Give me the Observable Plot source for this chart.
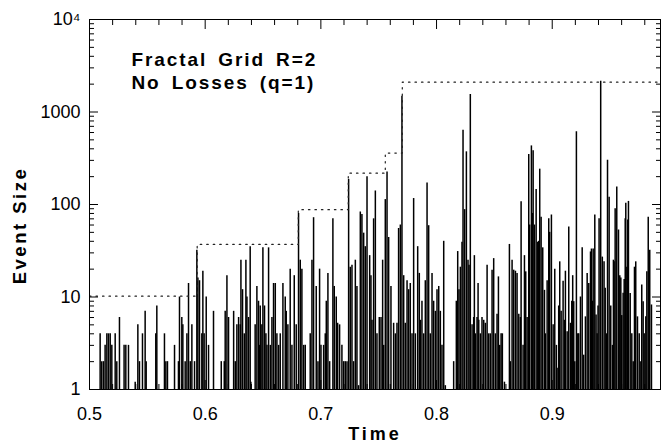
<!DOCTYPE html>
<html><head><meta charset="utf-8">
<script src="https://cdn.jsdelivr.net/npm/d3@7"></script>
<script src="https://cdn.jsdelivr.net/npm/@observablehq/plot@0.6"></script>
<style>
html,body{margin:0;padding:0;background:#fff;}
#chart{width:662px;height:444px;}
</style></head><body><div id="chart"></div>
<script>
// Event times
const times = [
0.5092,0.5106,0.5121,0.5135,0.5150,0.5164,0.5179,0.5193,0.5222,0.5236,0.5259,0.5299,0.5314,0.5337,0.5395,0.5418,0.5432,0.5458,0.5481,0.5490,
0.5573,0.5582,0.5648,0.5660,0.5674,0.5735,0.5769,0.5778,0.5798,0.5807,0.5827,0.5842,0.5856,0.5871,0.5885,0.5908,0.5928,0.5937,0.5951,0.5971,
0.5980,0.5991,0.6009,0.6029,0.6072,0.6139,0.6165,0.6173,0.6188,0.6202,0.6246,0.6260,0.6274,0.6289,0.6303,0.6309,0.6323,0.6338,0.6352,0.6361,
0.6375,0.6389,0.6395,0.6432,0.6447,0.6461,0.6470,0.6476,0.6490,0.6499,0.6513,0.6525,0.6534,0.6548,0.6563,0.6577,0.6591,0.6606,0.6620,0.6635,
0.6649,0.6672,0.6692,0.6701,0.6715,0.6735,0.6750,0.6770,0.6787,0.6807,0.6822,0.6836,0.6851,0.6865,0.6908,0.6923,0.6937,0.6960,0.6975,0.6989,
0.7001,0.7024,0.7038,0.7047,0.7061,0.7076,
0.7104,0.7116,0.7133,0.7145,0.7162,0.7182,0.7197,0.7211,0.7226,0.7240,0.7254,0.7269,0.7283,0.7298,0.7312,0.7326,0.7341,0.7355,0.7370,0.7384,
0.7399,0.7422,0.7433,0.7442,0.7456,0.7471,0.7485,0.7505,0.7520,0.7534,0.7543,0.7557,0.7572,0.7586,0.7606,0.7629,0.7644,0.7658,0.7672,0.7687,
0.7701,0.7716,0.7730,0.7745,0.7759,0.7773,0.7788,0.7802,0.7817,0.7837,0.7851,0.7860,0.7874,0.7889,0.7903,0.7918,0.7932,0.7946,0.7961,0.7975,
0.7990,0.8004,0.8019,0.8033,0.8047,0.8062,0.8076,0.8148,0.8171,0.8183,0.8194,0.8206,0.8220,0.8229,0.8243,0.8258,0.8272,0.8281,0.8292,0.8307,
0.8321,0.8327,0.8336,0.8350,0.8359,0.8365,0.8379,0.8393,0.8408,0.8422,0.8437,0.8451,0.8465,0.8480,0.8494,0.8509,0.8523,0.8535,0.8546,0.8558,
0.8569,0.8587,0.8630,0.8638,0.8653,0.8667,0.8682,0.8696,0.8711,
0.8725,0.8731,0.8748,0.8760,0.8771,0.8783,0.8797,0.8805,0.8820,0.8829,0.8835,0.8846,0.8861,0.8875,0.8883,0.8892,0.8904,0.8918,0.8933,0.8941,
0.8956,0.8970,0.8978,0.8993,0.9008,0.9022,0.9036,0.9042,0.9056,0.9065,0.9077,0.9094,0.9106,0.9114,0.9129,0.9143,0.9158,0.9169,0.9177,0.9186,
0.9195,0.9209,0.9221,0.9229,0.9244,0.9259,0.9272,0.9287,0.9302,0.9316,0.9331,0.9339,0.9348,
0.9354,0.9368,0.9379,0.9388,0.9396,0.9405,0.9419,0.9433,0.9448,0.9458,0.9469,0.9478,0.9492,0.9506,0.9521,0.9529,0.9535,0.9544,0.9558,0.9573,
0.9584,0.9593,0.9601,0.9613,0.9622,0.9631,0.9636,0.9645,0.9653,0.9659,0.9674,0.9688,0.9700,0.9711,0.9722,0.9737,0.9752,0.9766,0.9774,0.9786,
0.9795,0.9809,0.9818,0.9830,0.9843,0.9858
];
// Event sizes, same order as times
const sizes = [
4,2,2,3,4,4,4,3,4,2,6,3,3,3,1.2,5,2,4,7,2,
4,8,4,2,2,3,2,10,6,5,2,4,14,2,5,2,32,16,15,4,
19,4,10,3,7,2,2,7,17,6,7,2,5,6,5,25,12,4,25,10,
6,35,1.2,5,13,9,3,8,5,34,8,4,3,34,3,6,14,14,4,3,
4,14,10,7,5,20,3,17,5,80,25,20,3,3,4,25,72,13,2,20,
3,3,4,9,18,2,
70,13,10,5.2,5,3,2,2,2,187,21,22,2,25,13,1.1,83,78,49,35,
199,28,17,5.6,70,140,4,6,6,25,3,113,225,44,13,5.2,4,5.2,55,60,
1480,17,5.2,15,12,14,4,116,4,35,18,5.6,9,4,15,171,59,4,18,9,
7,12,13,7,3,40,1.1,2,9,31,12,21,39,635,88,371,25,22,1550,5,
6,28,4,6,14,5.6,4,6,5.6,5.2,22,4,4,19.5,26,4,6.5,16.5,3,4,
4,1.2,37,2,25,19.5,19,18,6.5,
6,107,3,28,18.7,6,347,60,430,80,380,60,145,39,40,241,73,34,11.8,4,
15,70,50,77,5,20,3,1.7,8,24,7,14.8,5.6,19,4.2,57,5.2,9,17,8.9,
2,610,4,4,10,34,2.35,6.1,18,14,30.7,33,9,
33,77,6.4,4,8,70,2150,27,24,12.4,4,301,120,8,3,25,24,90,155,53,
17,16,6.3,11,15.5,70,103,21,68,108,10.9,4,2,21,24,6.1,4,2,13.5,8.9,
4,6.1,18.7,73,32,8.2
];
// Dotted staircase (upper envelope)
const stepTimes = [0.5, 0.5931, 0.6805, 0.7237, 0.7557, 0.7704, 0.9936];
const stepLevels = [10.2, 37, 88, 218, 360, 2100, 2100];
// Axis ticks
const xTicks = [0.5, 0.6, 0.7, 0.8, 0.9];
const xMinorTicks = [0.52,0.54,0.56,0.58,0.62,0.64,0.66,0.68,0.72,0.74,0.76,0.78,0.82,0.84,0.86,0.88,0.92,0.94,0.96,0.98];
const yTicks = [1, 10, 100, 1000, 10000];
const yTickLabels = ["1", "10", "100", "1000", "10\u2074"];
const yMinorTicks = [2,3,4,5,6,7,8,9,20,30,40,50,60,70,80,90,200,300,400,500,600,700,800,900,2000,3000,4000,5000,6000,7000,8000,9000];
const noteLines = ["Fractal Grid R=2", "No Losses (q=1)"];
const xLabel = "Time";
const yLabel = "Event Size";

const events = times.map((t, i) => ({t, v: sizes[i]}));
const steps = stepTimes.map((t, i) => ({t, v: stepLevels[i]}));
const yLabelOf = new Map(yTicks.map((d, i) => [d, yTickLabels[i]]));

const major = 9, minor = 5;
// inward ticks: outward axis ticks shifted back inside the frame
const inX = (anchor, ticks, len) => Plot.axisX({anchor, ticks, tickSize: len, text: null, label: null, stroke: "#000", strokeWidth: 1, dy: anchor === "bottom" ? -len : len});
const inY = (anchor, ticks, len) => Plot.axisY({anchor, ticks, tickSize: len, text: null, label: null, stroke: "#000", strokeWidth: 1, dx: anchor === "left" ? len : -len});

const plot = Plot.plot({
  width: 662, height: 444,
  marginLeft: 89, marginRight: 2, marginTop: 19, marginBottom: 55,
  style: {fontFamily: "'Liberation Sans', Arial, Helvetica, sans-serif", fontSize: "18px", color: "#000", background: "#fff"},
  x: {domain: [0.5, 0.9936]},
  y: {type: "log", domain: [1, 10000]},
  marks: [
    Plot.ruleX(events, {x: "t", y1: 1, y2: "v", stroke: "#000", strokeWidth: 1.5}),
    Plot.line(steps, {x: "t", y: "v", curve: "step-after", stroke: "#222", strokeWidth: 1.2, strokeDasharray: "1.5,5"}),
    Plot.frame({stroke: "#000", strokeWidth: 1}),
    Plot.axisX({anchor: "bottom", ticks: xTicks, tickSize: 0, tickPadding: 18, tickFormat: d3.format(".1f"), label: null}),
    Plot.axisY({anchor: "left", ticks: yTicks, tickSize: 0, tickPadding: 9, tickFormat: d => yLabelOf.get(d), label: null}),
    inX("bottom", xTicks, major), inX("bottom", xMinorTicks, minor),
    inX("top", xTicks, major), inX("top", xMinorTicks, minor),
    inY("left", yTicks, major), inY("left", yMinorTicks, minor),
    inY("right", yTicks, major), inY("right", yMinorTicks, minor),
    Plot.text([xLabel], {frameAnchor: "bottom", dy: 44.5, lineAnchor: "middle", textAnchor: "middle", fontWeight: "bold", fontSize: 18}),
    Plot.text([yLabel], {frameAnchor: "left", dx: -69, dy: 21, rotate: -90, lineAnchor: "middle", textAnchor: "middle", fontWeight: "bold", fontSize: 18.5}),
    Plot.text([noteLines.join("\n")], {frameAnchor: "top-left", dx: 42, dy: 30.5, lineAnchor: "top", textAnchor: "start", fontWeight: "bold", fontSize: 19, lineHeight: 1.21})
  ]
});
document.getElementById("chart").appendChild(plot);
plot.querySelectorAll("text").forEach(t => {
  const s = t.textContent;
  if (s.startsWith("Fractal") || s.startsWith("No Losses")) { t.setAttribute("letter-spacing", "1.9"); t.setAttribute("word-spacing", "4"); }
  else if (s === xLabel) t.setAttribute("letter-spacing", "3");
  else if (s === yLabel) t.setAttribute("letter-spacing", "2.5");
});
</script>
</body></html>
